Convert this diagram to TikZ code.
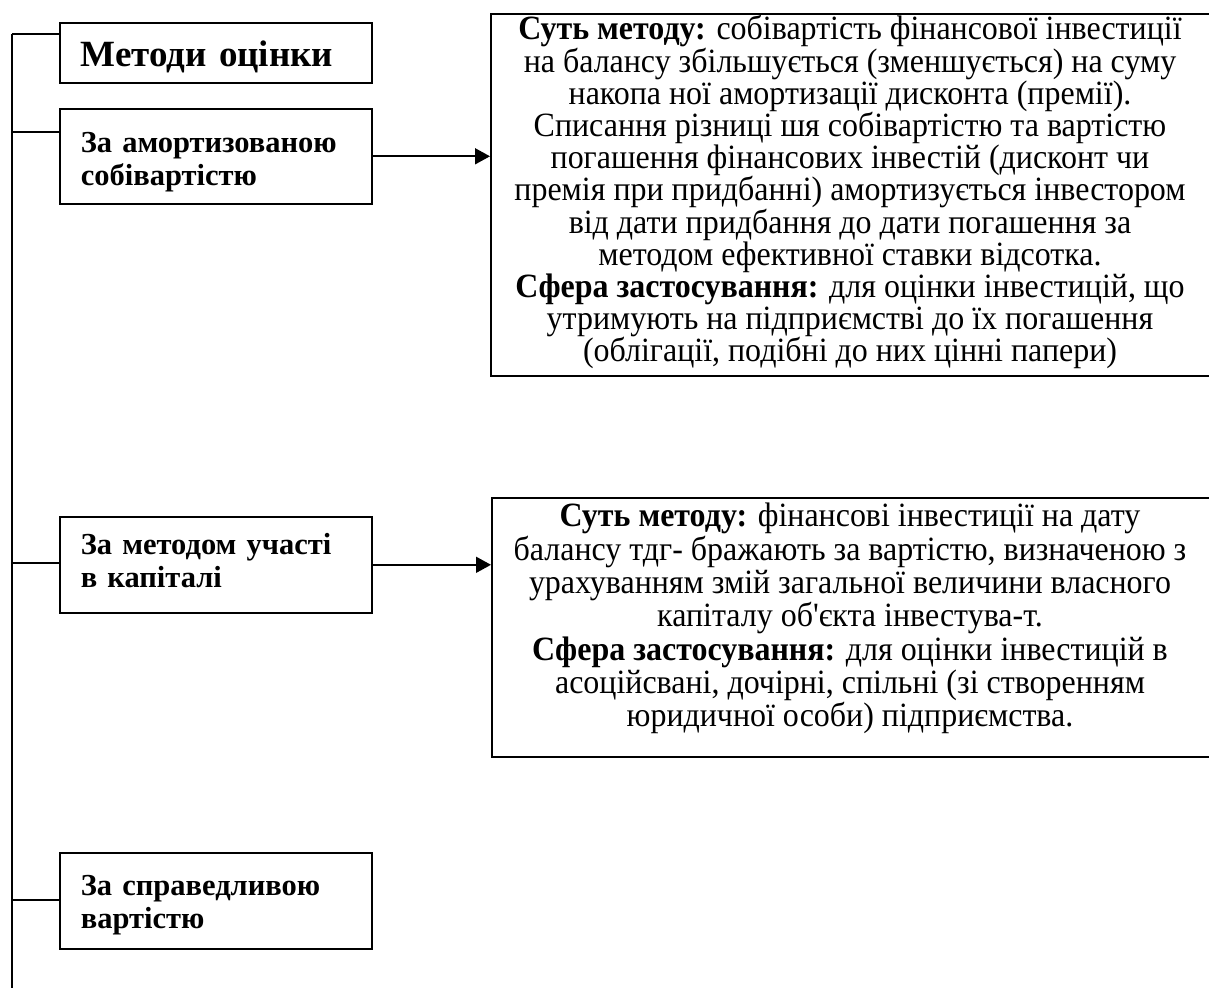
\documentclass[tikz,border=0pt]{standalone}
\usepackage{fontspec}
\setmainfont{Liberation Serif}[Ligatures=TeXOff]
\newfontfamily\condfont{Liberation Serif}[Ligatures=TeXOff, FakeStretch=0.94]
\usetikzlibrary{arrows.meta}
\newcommand\lowstrut[1]{\rule{0pt}{#1}}
\newcommand\deepstrut[1]{\rule[-#1]{0pt}{#1}}
\begin{document}
\lineskiplimit=-100pt\relax
\begin{tikzpicture}[x=1pt,y=-1pt,
  every path/.style={line width=1.6pt},
  leftbox/.style={draw, line width=1.6pt, anchor=north west, minimum width=312pt,
    text width=270pt, align=left, inner xsep=21pt, inner ysep=0pt,
    font=\fontsize{30.5}{33}\selectfont\bfseries},
  titlebox/.style={leftbox, font=\fontsize{37}{40}\selectfont\bfseries, minimum height=60pt},
  bigbox/.style={draw, line width=1.6pt, anchor=north west, minimum width=730pt, inner sep=0pt},
  desc/.style={align=center, inner sep=0pt, anchor=north,
    font=\condfont\fontsize{34}{32.2}\selectfont},
  arr/.style={-{Triangle[length=15pt,width=16pt]}, line width=1.6pt}
]
\useasboundingbox (0,0) rectangle (1209,987);
% left boxes
\node[titlebox] (b0) at (59,22) {\lowstrut{34pt}Методи оцінки};
\node[leftbox, minimum height=95pt] (b1) at (59,108) {\lowstrut{31pt}За амортизованою\\собівартістю};
\node[leftbox, minimum height=96pt] (b2) at (59,516) {За методом участі\\в капіталі\deepstrut{8pt}};
\node[leftbox, minimum height=96pt] (b3) at (59,852) {\lowstrut{28pt}За справедливою\\вартістю};
% big description boxes
\node[bigbox, minimum height=362pt] (d1) at (490,13) {};
\node[bigbox, minimum height=259pt] (d2) at (491,497) {};
\node[desc] (t1) at (850,11) {\lowstrut{28pt}\textbf{Суть методу:} собівартість фінансової інвестиції\\
на балансу збільшується (зменшується) на суму\\
накопа ної амортизації дисконта (премії).\\
Списання різниці шя собівартістю та вартістю\\
погашення фінансових інвестій (дисконт чи\\
премія при придбанні) амортизується інвестором\\
від дати придбання до дати погашення за\\
методом ефективної ставки відсотка.\\
\textbf{Сфера застосування:} для оцінки інвестицій, що\\
утримують на підприємстві до їх погашення\\
(облігації, подібні до них цінні папери)};
\node[desc, font=\condfont\fontsize{34}{33.3}\selectfont] (t2) at (850,498) {\lowstrut{28pt}\textbf{Суть методу:} фінансові інвестиції на дату\\
балансу тдг- бражають за вартістю, визначеною з\\
урахуванням змій загальної величини власного\\
капіталу об'єкта інвестува-т.\\
\textbf{Сфера застосування:} для оцінки інвестицій в\\
асоційсвані, дочірні, спільні (зі створенням\\
юридичної особи) підприємства.};
% trunk line
\coordinate (v0) at (12,34);
\coordinate (v1) at (12,132);
\coordinate (v2) at (12,563);
\coordinate (v3) at (12,900);
\coordinate (vend) at (12,992);
\draw (v0) -- (vend);
\draw (v0) -- (v0 -| b0.west);
\draw (v1) -- (v1 -| b1.west);
\draw (v2) -- (v2 -| b2.west);
\draw (v3) -- (v3 -| b3.west);
% arrows
\draw[arr] (b1.east) -- (b1.east -| d1.west);
\draw[arr] (b2.east) -- (b2.east -| d2.west);
\end{tikzpicture}
\end{document}
